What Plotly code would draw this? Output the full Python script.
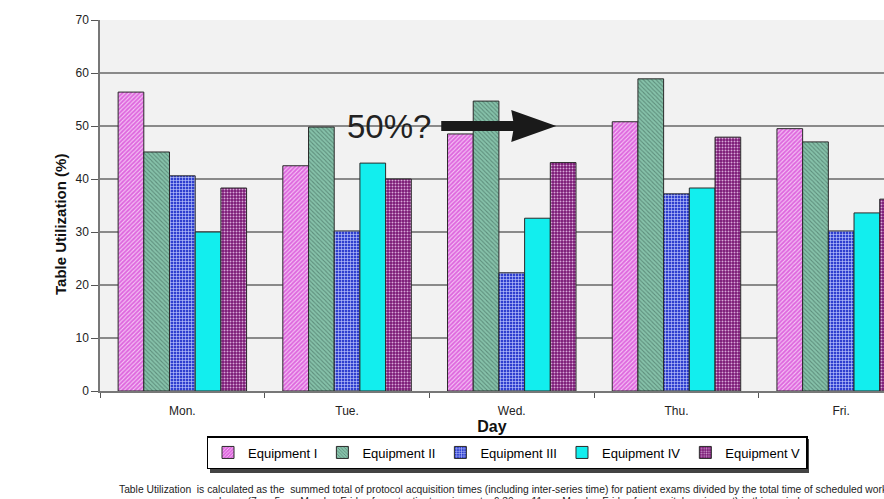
import plotly.graph_objects as go

days = ["Mon.", "Tue.", "Wed.", "Thu.", "Fri."]
equipment = ["Equipment I", "Equipment II", "Equipment III", "Equipment IV", "Equipment V"]

equip_1 = [56.4, 42.5, 48.5, 50.8, 49.5]
equip_2 = [45.1, 49.8, 54.7, 58.9, 47.0]
equip_3 = [40.6, 30.2, 22.3, 37.2, 30.2]
equip_4 = [30.0, 43.0, 32.6, 38.3, 33.6]
equip_5 = [38.3, 40.0, 43.1, 47.9, 36.2]

series = [equip_1, equip_2, equip_3, equip_4, equip_5]

# fill styles per equipment: (background, pattern colour, pattern shape)
styles = [
    ("#DE68DE", "#F6C8F6", "/"),
    ("#86C2AA", "#5E8E7C", "\\"),
    ("#2F3FCF", "#C8D0FF", "+"),
    ("#12EEEE", "#12EEEE", ""),
    ("#781673", "#D8A8D8", "."),
]

fig = go.Figure()
for name, vals, (bg, fg, shape) in zip(equipment, series, styles):
    fig.add_trace(go.Bar(
        x=days, y=vals, name=name,
        marker=dict(
            color=bg,
            line=dict(color="#2a2a2a", width=1),
            pattern=dict(shape=shape, bgcolor=bg, fgcolor=fg,
                         size=3, solidity=0.35, fillmode="replace"),
        ),
    ))

# plot area in pixels: x 100..884, y 20..391
def px_x(p):
    return (p - 100) / 784

def px_y(p):
    return (391 - p) / 371

fig.update_layout(
    width=884, height=499,
    margin=dict(l=100, r=0, t=20, b=108),
    paper_bgcolor="white",
    plot_bgcolor="#F2F2F2",
    barmode="group",
    bargap=0.22,
    bargroupgap=0,
    font=dict(family="Liberation Sans, Arial, sans-serif", color="#222"),
    legend=dict(
        orientation="h",
        xref="container", yref="container",
        x=507 / 884, xanchor="center",
        y=1 - 436 / 499, yanchor="top",
        bgcolor="white", bordercolor="black", borderwidth=1.5,
        font=dict(size=13, color="black"),
        itemwidth=30,
        tracegroupgap=0,
    ),
    showlegend=True,
)

fig.update_xaxes(
    range=[-0.5, 4.26],
    showline=True, linecolor="#777", linewidth=1.5,
    ticks="outside", tickson="boundaries", ticklen=5, tickcolor="#555",
    ticklabelstandoff=8,
    tickfont=dict(size=12, color="#222"),
    title=dict(text="<b>Day</b>", font=dict(size=16, color="#111"), standoff=4),
    showgrid=False,
)
fig.update_yaxes(
    range=[0, 70], dtick=10,
    showline=True, linecolor="#777", linewidth=1.5,
    ticks="outside", ticklen=7, tickcolor="#555",
    tickfont=dict(size=12, color="#222"),
    showgrid=True, gridcolor="#8a8a8a", gridwidth=1.5,
    zeroline=False,
)

# y axis title
fig.add_annotation(
    x=px_x(60), y=px_y(225), xref="paper", yref="paper",
    text="<b>Table Utilization (%)</b>", textangle=-90, showarrow=False,
    font=dict(size=15, color="#111"), xanchor="center", yanchor="middle",
)

# question label and arrow pointing at the 50% level
fig.add_annotation(
    x=1.255, y=50, xref="x", yref="y",
    text="50%?", showarrow=False,
    font=dict(size=33, color="#222", family="Liberation Sans, Arial, sans-serif"),
    xanchor="center", yanchor="middle",
)
fig.add_shape(
    type="path", xref="x", yref="y",
    xsizemode="pixel", ysizemode="pixel",
    xanchor=2.27, yanchor=50,
    path="M -115,-5 L -43,-5 L -45,-16 L 0,0 L -45,16 L -43,5 L -115,5 Z",
    fillcolor="#1a1a1a", line=dict(width=0),
)

# drop shadow behind the legend box
fig.add_shape(
    type="rect", xref="paper", yref="paper", layer="above",
    x0=px_x(210), x1=px_x(809), y0=px_y(473), y1=px_y(439),
    fillcolor="#444", line=dict(width=0),
)

caption_1 = ("Table Utilization  is calculated as the  summed total of protocol acquisition times "
             "(including inter-series time) for patient exams divided by the total time of scheduled working")
caption_2 = ("hours (7am-5pm, Monday-Friday for outpatient equipments; 6:30am-11pm, "
             "Monday-Friday for hospital equipment) in this period.")
fig.add_annotation(
    x=px_x(117), y=px_y(489), xref="paper", yref="paper",
    text=caption_1, showarrow=False, xanchor="left", yanchor="middle",
    font=dict(size=10.3, color="#222"),
)
fig.add_annotation(
    x=px_x(217), y=px_y(501), xref="paper", yref="paper",
    text=caption_2, showarrow=False, xanchor="left", yanchor="middle",
    font=dict(size=10.3, color="#222"),
)

fig.write_html("out.html")
